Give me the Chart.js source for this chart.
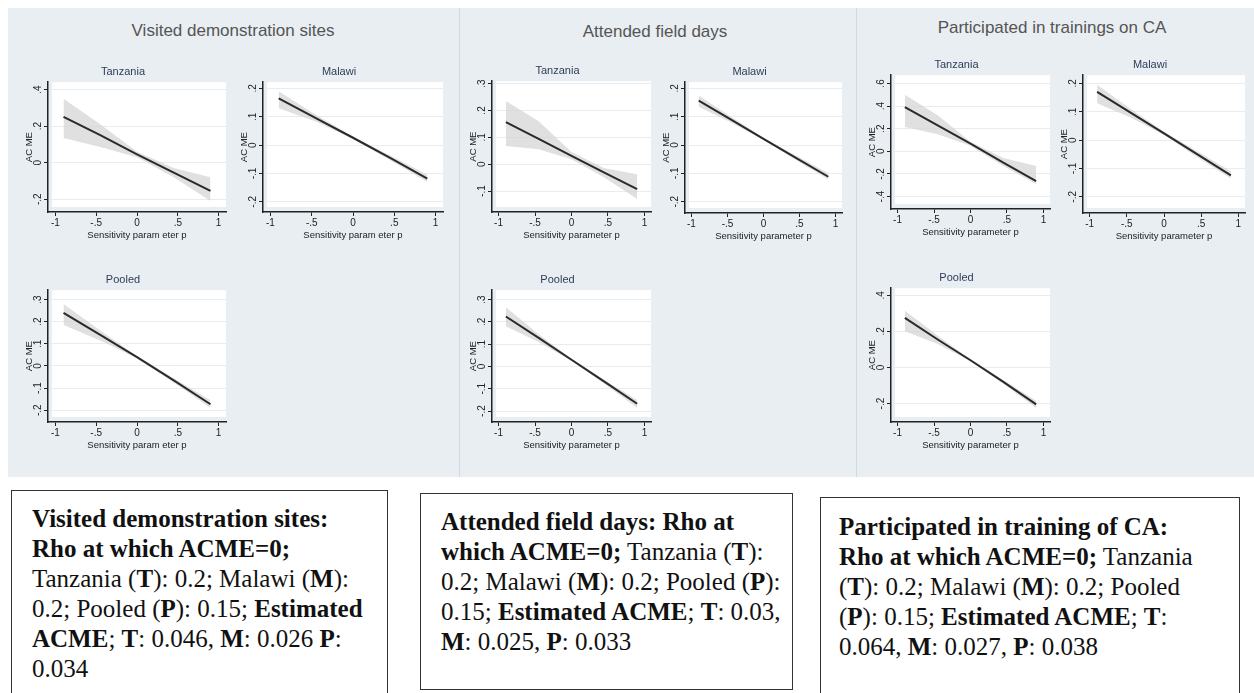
<!DOCTYPE html>
<html>
<head>
<meta charset="utf-8">
<script src="https://cdn.jsdelivr.net/npm/chart.js@4.4.0/dist/chart.umd.min.js"></script>
<style>
  body { margin:0; width:1254px; height:693px; background:#fff; position:relative; overflow:hidden; }
  #bg { position:absolute; left:8px; top:8px; width:1246px; height:469px; background:#e8eef1; }
  .divider { position:absolute; top:8px; height:469px; width:1px; background:#d2dadf; }
  .section { position:absolute; font-family:'Liberation Sans Narrow','Liberation Sans',sans-serif; font-size:17px; color:#555; transform:translate(-50%,-50%); white-space:nowrap; }
  canvas.panel { position:absolute; }
  .note { position:absolute; border:1.5px solid #333; background:#fff; box-sizing:border-box; white-space:nowrap;
          font-family:'Liberation Serif','Times New Roman',serif; font-size:25px; line-height:30px; color:#111; }
</style>
</head>
<body>
<div id="bg"></div>
<div class="divider" style="left:459px"></div>
<div class="divider" style="left:856px"></div>
<div class="section" style="left:233px; top:31px">Visited demonstration sites</div>
<div class="section" style="left:655px; top:32px">Attended field days</div>
<div class="section" style="left:1052px; top:28px">Participated in trainings on CA</div>

<div class="note" style="left:11px; top:490px; width:377px; height:215px; padding:13px 0 0 20px">
<b>Visited demonstration sites:</b><br><b>Rho at which ACME=0;</b><br>Tanzania (<b>T</b>): 0.2; Malawi (<b>M</b>):<br>0.2; Pooled (<b>P</b>): 0.15; <b>Estimated</b><br><b>ACME</b>; <b>T</b>: 0.046, <b>M</b>: 0.026 <b>P</b>:<br>0.034
</div>
<div class="note" style="left:420px; top:493px; width:373px; height:197px; padding:13px 0 0 20px">
<b>Attended field days: Rho at</b><br><b>which ACME=0;</b> Tanzania (<b>T</b>):<br>0.2; Malawi (<b>M</b>): 0.2; Pooled (<b>P</b>):<br>0.15; <b>Estimated ACME</b>; <b>T</b>: 0.03,<br><b>M</b>: 0.025, <b>P</b>: 0.033
</div>
<div class="note" style="left:820px; top:497px; width:420px; height:210px; padding:14px 0 0 18px">
<b>Participated in training of CA:</b><br><b>Rho at which ACME=0;</b> Tanzania<br>(<b>T</b>): 0.2; Malawi (<b>M</b>): 0.2; Pooled<br>(<b>P</b>): 0.15; <b>Estimated ACME</b>; <b>T</b>:<br>0.064, <b>M</b>: 0.027, <b>P</b>: 0.038
</div>

<script>
// sensitivity parameter rho where values were read
const rho = [-0.9, -0.45, 0, 0.45, 0.9];
const xTicks = [-1, -0.5, 0, 0.5, 1];

// Visited demonstration sites
const visitTzLine  = [0.25, 0.15, 0.045, -0.055, -0.155];
const visitTzUpper = [0.35, 0.21, 0.06, -0.03, -0.08];
const visitTzLower = [0.135, 0.085, 0.03, -0.08, -0.21];
const visitTzTicks = [-0.2, 0, 0.2, 0.4];

const visitMwLine  = [0.165, 0.095, 0.026, -0.045, -0.118];
const visitMwUpper = [0.19, 0.107, 0.03, -0.037, -0.105];
const visitMwLower = [0.13, 0.083, 0.022, -0.053, -0.13];
const visitMwTicks = [-0.2, -0.1, 0, 0.1, 0.2];

const visitPoLine  = [0.24, 0.14, 0.04, -0.065, -0.173];
const visitPoUpper = [0.28, 0.16, 0.045, -0.055, -0.155];
const visitPoLower = [0.185, 0.115, 0.035, -0.075, -0.19];
const visitPoTicks = [-0.2, -0.1, 0, 0.1, 0.2, 0.3];

// Attended field days
const fieldTzLine  = [0.157, 0.094, 0.031, -0.031, -0.093];
const fieldTzUpper = [0.235, 0.16, 0.045, -0.015, -0.037];
const fieldTzLower = [0.068, 0.056, 0.018, -0.05, -0.13];
const fieldTzTicks = [-0.1, 0, 0.1, 0.2, 0.3];

const fieldMwLine  = [0.157, 0.09, 0.022, -0.045, -0.112];
const fieldMwUpper = [0.175, 0.1, 0.026, -0.037, -0.1];
const fieldMwLower = [0.135, 0.08, 0.018, -0.053, -0.122];
const fieldMwTicks = [-0.2, -0.1, 0, 0.1, 0.2];

const fieldPoLine  = [0.224, 0.128, 0.03, -0.068, -0.167];
const fieldPoUpper = [0.265, 0.145, 0.035, -0.06, -0.15];
const fieldPoLower = [0.18, 0.11, 0.025, -0.078, -0.185];
const fieldPoTicks = [-0.2, -0.1, 0, 0.1, 0.2, 0.3];

// Participated in trainings on CA
const trainTzLine  = [0.39, 0.23, 0.068, -0.1, -0.264];
const trainTzUpper = [0.5, 0.32, 0.085, -0.06, -0.13];
const trainTzLower = [0.215, 0.15, 0.05, -0.13, -0.29];
const trainTzTicks = [-0.4, -0.2, 0, 0.2, 0.4, 0.6];

const trainMwLine  = [0.17, 0.097, 0.024, -0.05, -0.124];
const trainMwUpper = [0.195, 0.11, 0.03, -0.04, -0.11];
const trainMwLower = [0.13, 0.08, 0.018, -0.06, -0.135];
const trainMwTicks = [-0.2, -0.1, 0, 0.1, 0.2];

const trainPoLine  = [0.275, 0.155, 0.04, -0.08, -0.204];
const trainPoUpper = [0.315, 0.175, 0.045, -0.07, -0.185];
const trainPoLower = [0.2, 0.13, 0.035, -0.09, -0.225];
const trainPoTicks = [-0.2, 0, 0.2, 0.4];

// --- layout: frame = axis box (left axis line .. right edge of plot, top .. bottom axis line)
const panels = [
  { title: 'Tanzania', xt: 'Sensitivity param eter p', line: visitTzLine, up: visitTzUpper, lo: visitTzLower, ticks: visitTzTicks, ymin: -0.27, ymax: 0.44, f: { l: 48, t: 82, r: 226, b: 212 } },
  { title: 'Malawi',   xt: 'Sensitivity param eter p', line: visitMwLine, up: visitMwUpper, lo: visitMwLower, ticks: visitMwTicks, ymin: -0.236, ymax: 0.222, f: { l: 263, t: 82, r: 443, b: 212 } },
  { title: 'Tanzania', xt: 'Sensitivity parameter p', line: fieldTzLine, up: fieldTzUpper, lo: fieldTzLower, ticks: fieldTzTicks, ymin: -0.178, ymax: 0.309, f: { l: 492, t: 81, r: 651, b: 212 } },
  { title: 'Malawi',   xt: 'Sensitivity parameter p', line: fieldMwLine, up: fieldMwUpper, lo: fieldMwLower, ticks: fieldMwTicks, ymin: -0.24, ymax: 0.222, f: { l: 685, t: 82, r: 842, b: 213 } },
  { title: 'Tanzania', xt: 'Sensitivity parameter p', line: trainTzLine, up: trainTzUpper, lo: trainTzLower, ticks: trainTzTicks, ymin: -0.51, ymax: 0.673, f: { l: 891, t: 75, r: 1050, b: 209 } },
  { title: 'Malawi',   xt: 'Sensitivity parameter p', line: trainMwLine, up: trainMwUpper, lo: trainMwLower, ticks: trainMwTicks, ymin: -0.257, ymax: 0.229, f: { l: 1083, t: 75, r: 1245, b: 213 } },
  { title: 'Pooled',   xt: 'Sensitivity param eter p', line: visitPoLine, up: visitPoUpper, lo: visitPoLower, ticks: visitPoTicks, ymin: -0.253, ymax: 0.342, f: { l: 48, t: 290, r: 226, b: 422 } },
  { title: 'Pooled',   xt: 'Sensitivity parameter p', line: fieldPoLine, up: fieldPoUpper, lo: fieldPoLower, ticks: fieldPoTicks, ymin: -0.249, ymax: 0.342, f: { l: 492, t: 290, r: 651, b: 422 } },
  { title: 'Pooled',   xt: 'Sensitivity parameter p', line: trainPoLine, up: trainPoUpper, lo: trainPoLower, ticks: trainPoTicks, ymin: -0.302, ymax: 0.439, f: { l: 891, t: 288, r: 1050, b: 422 } }
];

const FONT = '"Liberation Sans Narrow", "Liberation Sans", sans-serif';
const Y_AXIS_W = 28, X_AXIS_H = 34, TITLE_H = 17.2, RIGHT_PAD = 3;

// Stata style numbers: .5, -.2
function stataNum(v) {
  const s = String(Math.round(v * 100) / 100);
  return s.replace(/^(-?)0\./, '$1.');
}

// white plot region + vertical y tick labels
const stataPlot = {
  id: 'stataPlot',
  beforeDraw(chart) {
    const { ctx, chartArea: a } = chart;
    ctx.save();
    ctx.fillStyle = '#ffffff';
    ctx.fillRect(a.left + 4, a.top, a.right - a.left - 4, a.bottom - a.top - 5);
    ctx.restore();
  },
  afterDraw(chart) {
    const { ctx, chartArea: a } = chart;
    const y = chart.scales.y;
    ctx.save();
    ctx.font = '10px ' + FONT;
    ctx.fillStyle = '#222';
    ctx.textAlign = 'center';
    ctx.textBaseline = 'middle';
    y.ticks.forEach(t => {
      ctx.save();
      ctx.translate(a.left - 10, y.getPixelForValue(t.value));
      ctx.rotate(-Math.PI / 2);
      ctx.fillText(stataNum(t.value), 0, 0);
      ctx.restore();
    });
    ctx.restore();
  }
};

const toPts = arr => arr.map((v, i) => ({ x: rho[i], y: v }));

panels.forEach(p => {
  const f = p.f;
  const left = f.l - Y_AXIS_W;
  const top = f.t - TITLE_H;
  const w = Math.round(f.r + RIGHT_PAD - left);
  const h = Math.round(f.b + X_AXIS_H - top);

  const canvas = document.createElement('canvas');
  canvas.className = 'panel';
  canvas.width = w;
  canvas.height = h;
  canvas.style.left = left + 'px';
  canvas.style.top = top + 'px';
  canvas.style.width = w + 'px';
  canvas.style.height = h + 'px';
  document.body.appendChild(canvas);

  new Chart(canvas.getContext('2d'), {
    type: 'line',
    data: {
      datasets: [
        { data: toPts(p.line), borderColor: '#2a2a2a', borderWidth: 2, pointRadius: 0, fill: false },
        { data: toPts(p.up), borderWidth: 0, borderColor: 'rgba(0,0,0,0)', pointRadius: 0, fill: '+1', backgroundColor: 'rgba(214,214,214,0.75)' },
        { data: toPts(p.lo), borderWidth: 0, borderColor: 'rgba(0,0,0,0)', pointRadius: 0, fill: false }
      ]
    },
    options: {
      responsive: false,
      animation: false,
      layout: { padding: { right: RIGHT_PAD, left: 0, top: 0, bottom: 0 } },
      plugins: {
        legend: { display: false },
        tooltip: { enabled: false },
        title: {
          display: true,
          text: p.title,
          color: '#2f3d5a',
          font: { family: FONT, size: 11, weight: 'normal' },
          padding: { top: 0, bottom: 4 }
        }
      },
      scales: {
        x: {
          type: 'linear',
          min: -1.09,
          max: 1.09,
          afterBuildTicks: s => { s.ticks = xTicks.map(v => ({ value: v })); },
          afterFit: s => { s.height = X_AXIS_H; },
          ticks: {
            color: '#222',
            padding: 1,
            maxRotation: 0,
            font: { family: FONT, size: 10 },
            callback: v => stataNum(v)
          },
          grid: { drawOnChartArea: false, drawTicks: true, tickLength: 4, tickColor: '#222' },
          border: { display: true, color: '#222', width: 1.5 },
          title: {
            display: true,
            text: p.xt,
            color: '#222',
            font: { family: FONT, size: 9.5 },
            padding: { top: 0, bottom: 5 }
          }
        },
        y: {
          type: 'linear',
          min: p.ymin,
          max: p.ymax,
          afterBuildTicks: s => { s.ticks = p.ticks.map(v => ({ value: v })); },
          afterFit: s => { s.width = Y_AXIS_W; },
          ticks: { display: false },
          grid: { color: '#e6ecf0', lineWidth: 1, drawTicks: true, tickLength: 4, tickColor: '#222' },
          border: { display: true, color: '#222', width: 1.5 },
          title: {
            display: true,
            text: 'AC ME',
            color: '#222',
            font: { family: FONT, size: 9.5 },
            padding: { top: 4, bottom: 0 }
          }
        }
      }
    },
    plugins: [stataPlot]
  });
});
</script>
</body>
</html>
